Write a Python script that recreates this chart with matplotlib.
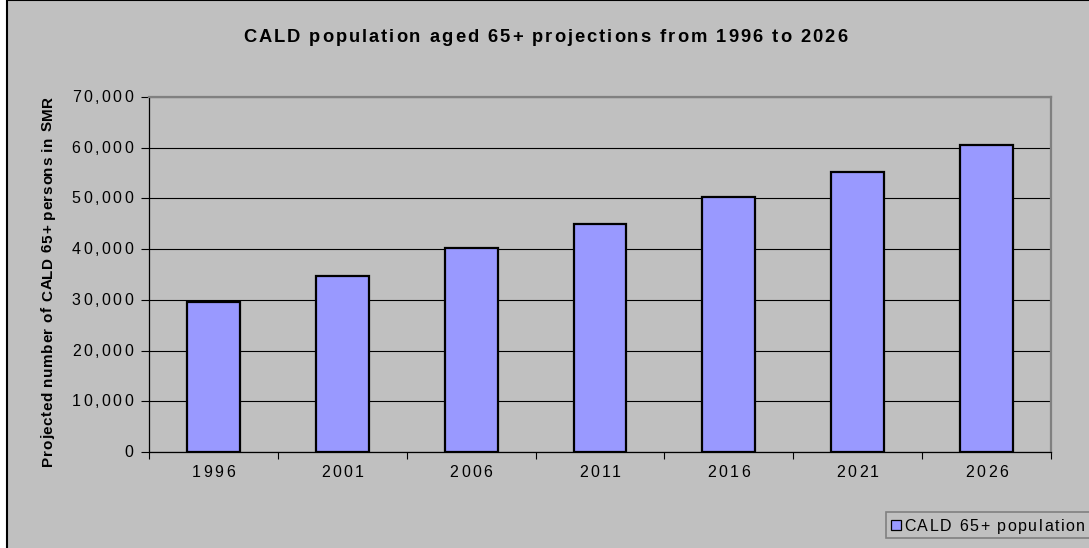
import numpy as np
import matplotlib
matplotlib.use('Agg')
import matplotlib.pyplot as plt
from matplotlib.patches import Rectangle
from matplotlib.font_manager import FontProperties
from matplotlib.transforms import offset_copy

years = ['1996', '2001', '2006', '2011', '2016', '2021', '2026']
persons = [29600, 34800, 40300, 44900, 50300, 55200, 60600]
yticks = np.arange(0, 70001, 10000)
ytick_labels = ['{:,}'.format(v) for v in yticks]

title = 'CALD population aged 65+ projections from 1996 to 2026'
ylabel = 'Projected number of CALD 65+ persons in SMR'
series_name = 'CALD 65+ population'

plt.rcParams['font.family'] = ['Liberation Sans', 'DejaVu Sans']

W, H, DPI = 1089, 548, 100
BG = '#c0c0c0'
BAR = '#9999ff'

fig = plt.figure(figsize=(W / DPI, H / DPI), dpi=DPI, facecolor='white')
renderer = fig.canvas.get_renderer()


def fx(x):
    return x / W


def fy(y):
    return 1 - y / H


def spaced(x, y, s, gap, size, weight='normal', transform=None,
           ha='center', vertical=False):
    # excel-ish tracking: place glyphs one by one with extra pixels between
    prop = FontProperties(family=plt.rcParams['font.family'], size=size,
                          weight=weight)

    def wid(t):
        return renderer.get_text_width_height_descent(t, prop, ismath=False)[0]

    pos = [wid(s[:i + 1]) - wid(c) + i * gap for i, c in enumerate(s)]
    total = pos[-1] + wid(s[-1])
    start = {'center': -total / 2, 'left': 0, 'right': -total}[ha]
    if transform is None:
        transform = fig.transFigure
    for c, p in zip(s, pos):
        if c == ' ':
            continue
        d = start + p
        if vertical:
            tr = offset_copy(transform, fig=fig, x=0, y=d, units='dots')
            fig.text(x, y, c, transform=tr, fontproperties=prop, rotation=90,
                     rotation_mode='anchor', ha='left', va='baseline')
        else:
            tr = offset_copy(transform, fig=fig, x=d, y=0, units='dots')
            fig.text(x, y, c, transform=tr, fontproperties=prop,
                     ha='left', va='baseline')


# chart area with its black frame (runs past the right and bottom edges)
fig.patches.append(Rectangle((fx(7), fy(560)), fx(1100 - 7), 560 / H,
                             transform=fig.transFigure, facecolor=BG,
                             edgecolor='black', linewidth=1.5, zorder=-1))

left, right, top, bottom = 149, 1051, 97, 452
ax = fig.add_axes([fx(left), fy(bottom), fx(right - left), (bottom - top) / H])
ax.set_facecolor(BG)

x = np.arange(len(years))
ax.bar(x, persons, width=0.41, color=BAR, edgecolor='black', linewidth=1.6,
       zorder=3)

ax.set_xlim(-0.5, len(years) - 0.5)
ax.set_ylim(0, 70000)
ax.set_yticks(yticks)
ax.set_yticklabels([])
ax.set_xticks(np.arange(-0.5, len(years), 1.0))
ax.set_xticklabels([])
ax.tick_params(axis='y', direction='out', length=6, width=0.8, color='black')
ax.tick_params(axis='x', direction='out', length=5, width=0.8, color='black')
ax.yaxis.grid(True, color='black', linewidth=0.8, zorder=1)
ax.set_axisbelow(True)

for side in ('left', 'bottom'):
    ax.spines[side].set_color('black')
    ax.spines[side].set_linewidth(0.9)
for side in ('top', 'right'):
    ax.spines[side].set_color('#808080')
    ax.spines[side].set_linewidth(1.6)

# tick labels
ytr = ax.get_yaxis_transform()
for v, lab in zip(yticks, ytick_labels):
    spaced(-16 / (right - left), v, lab, 2.5, 11.5, transform=offset_copy(
        ytr, fig=fig, x=0, y=-5, units='dots'), ha='right')

xtr = ax.get_xaxis_transform()
for i, lab in enumerate(years):
    spaced(i, 0, lab, 2.5, 11.5, transform=offset_copy(
        xtr, fig=fig, x=0, y=-25, units='dots'))

spaced(fx(545), fy(42), title, 2.0, 13.2, weight='bold')
spaced(fx(52), fy(281), ylabel, 0.6, 11, weight='bold', vertical=True)

# legend
fig.patches.append(Rectangle((fx(886), fy(538)), fx(300), 26 / H,
                             transform=fig.transFigure, facecolor=BG,
                             edgecolor='#808080', linewidth=1.2, zorder=1))
fig.patches.append(Rectangle((fx(891), fy(530)), fx(10), 10 / H,
                             transform=fig.transFigure, facecolor=BAR,
                             edgecolor='black', linewidth=0.9, zorder=2))
spaced(fx(904), fy(531), series_name, 1.6, 11.5, ha='left')

fig.savefig('out.png', dpi=DPI, facecolor='white')
